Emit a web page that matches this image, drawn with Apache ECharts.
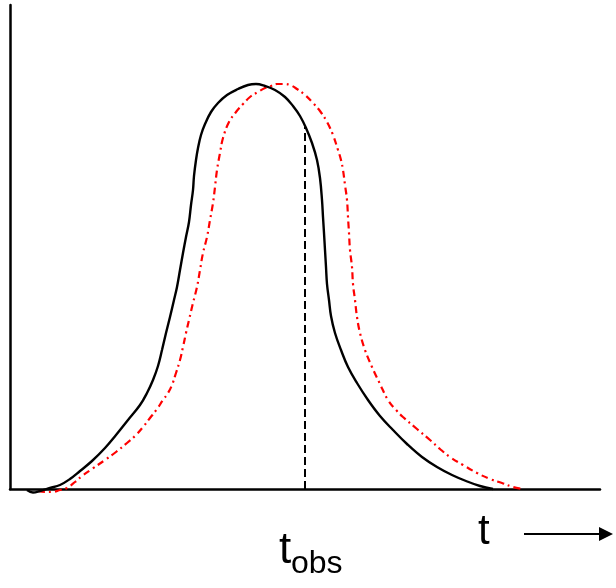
<!DOCTYPE html>
<html>
<head>
<meta charset="utf-8">
<script src="https://cdn.jsdelivr.net/npm/echarts@6/dist/echarts.min.js"></script>
<style>
  html, body { margin: 0; padding: 0; background: #fff; }
  #chart { width: 616px; height: 588px; }
</style>
</head>
<body>
<div id="chart"></div>
<script>
// Solid black pulse (time, intensity)
const solidT = [1.7, 2.3, 3.0, 4.0, 5.0, 6.0, 7.0, 8.2, 9.5, 10.6, 11.8, 13.0, 13.7, 14.3, 14.8, 15.2, 15.6, 16.0, 16.4, 16.7, 17.0, 17.3, 17.6, 17.9, 18.1, 18.3, 18.4, 18.6, 18.8, 19.1, 19.5, 20.1, 20.8, 21.7, 22.8, 23.8, 24.6, 25.5, 26.5, 27.5, 28.3, 29.0, 29.6, 30.2, 30.7, 31.0, 31.2, 31.3, 31.4, 31.5, 31.6, 31.7, 31.9, 32.1, 32.5, 33.1, 33.8, 34.7, 35.8, 37.0, 38.3, 39.7, 41.2, 42.7, 44.2, 45.6, 47.0, 48.3];
const solidI = [-0.1, -0.35, -0.2, 0.1, 0.4, 1.0, 1.8, 2.8, 4.1, 5.4, 6.9, 8.4, 9.6, 10.9, 12.3, 13.9, 15.6, 17.2, 18.9, 20.2, 21.9, 23.6, 25.2, 26.7, 28.4, 29.9, 31.3, 32.9, 34.1, 35.4, 36.5, 37.7, 38.6, 39.4, 40.0, 40.4, 40.5, 40.3, 39.9, 39.2, 38.3, 37.3, 36.1, 34.6, 32.9, 31.1, 28.9, 27.2, 25.6, 23.9, 22.2, 20.5, 18.9, 17.3, 15.6, 13.9, 12.2, 10.6, 8.9, 7.3, 5.9, 4.5, 3.2, 2.2, 1.4, 0.8, 0.3, 0.0];

// Shifted red pulse (time, intensity)
const shiftedT = [2.8, 3.5, 4.2, 5.0, 5.7, 6.5, 7.2, 8.2, 9.5, 10.6, 11.7, 12.6, 13.3, 14.0, 14.7, 15.3, 15.8, 16.2, 16.6, 17.0, 17.3, 17.6, 17.9, 18.3, 18.7, 19.0, 19.3, 19.7, 20.0, 20.3, 20.5, 20.7, 21.0, 21.3, 21.9, 22.6, 23.3, 24.0, 24.8, 25.5, 26.1, 26.7, 27.4, 28.0, 28.7, 29.5, 30.3, 31.0, 31.7, 32.3, 32.8, 33.1, 33.3, 33.5, 33.7, 33.8, 33.9, 34.0, 34.2, 34.3, 34.5, 34.7, 35.0, 35.5, 36.2, 37.0, 37.8, 38.6, 39.3, 40.7, 42.0, 43.0, 44.0, 45.3, 46.7, 48.0, 49.2, 50.3, 51.3];
const shiftedI = [-0.2, -0.3, -0.3, -0.1, 0.1, 0.7, 1.3, 2.0, 2.9, 3.7, 4.6, 5.4, 6.2, 7.1, 8.0, 8.9, 9.6, 10.4, 11.6, 12.9, 14.2, 15.6, 16.9, 18.6, 20.2, 21.9, 23.6, 25.2, 26.9, 28.6, 30.2, 31.9, 33.6, 35.1, 36.7, 37.7, 38.5, 39.2, 39.7, 40.1, 40.3, 40.5, 40.5, 40.4, 40.0, 39.4, 38.6, 37.8, 36.7, 35.4, 33.9, 32.9, 31.9, 30.4, 28.9, 27.2, 25.6, 23.9, 22.2, 20.5, 18.9, 17.2, 15.6, 13.9, 12.2, 10.5, 8.9, 7.9, 7.2, 6.0, 4.9, 4.0, 3.2, 2.4, 1.6, 1.0, 0.6, 0.2, 0.0];

// Observation time and the solid pulse height there
const tObs = 29.5;
const tObsLevel = 36.2;

const tMax = 59;
const iMax = 48.4;

const pairs = (xs, ys) => xs.map((x, i) => [x, ys[i]]);

const chart = echarts.init(document.getElementById('chart'), null, { renderer: 'canvas' });

const font = '"Liberation Sans", Arial, sans-serif';

chart.setOption({
  animation: false,
  backgroundColor: '#ffffff',
  grid: { left: 10, right: 16, top: 5, bottom: 99, containLabel: false },
  xAxis: {
    type: 'value', min: 0, max: tMax,
    axisLine: { show: true, onZero: false, lineStyle: { color: '#000', width: 2.5 } },
    axisTick: { show: false }, axisLabel: { show: false }, splitLine: { show: false }
  },
  yAxis: {
    type: 'value', min: 0, max: iMax,
    axisLine: { show: true, onZero: false, lineStyle: { color: '#000', width: 2.5 } },
    axisTick: { show: false }, axisLabel: { show: false }, splitLine: { show: false }
  },
  series: [
    {
      type: 'line',
      data: pairs(shiftedT, shiftedI),
      smooth: 0.4,
      symbol: 'none',
      clip: false,
      lineStyle: { color: '#ff0000', width: 2.2, type: [7, 4, 2, 4] },
      z: 2
    },
    {
      type: 'line',
      data: pairs(solidT, solidI),
      smooth: 0.4,
      symbol: 'none',
      clip: false,
      lineStyle: { color: '#000000', width: 2.4 },
      z: 3,
      markLine: {
        silent: true,
        symbol: ['none', 'none'],
        label: { show: false },
        lineStyle: { color: '#000', width: 2, type: [8, 4] },
        data: [[{ coord: [tObs, 0] }, { coord: [tObs, tObsLevel] }]]
      }
    }
  ],
  graphic: [
    { type: 'text', left: 279, top: 529, style: { text: 't', font: '44px ' + font, fill: '#000' } },
    { type: 'text', left: 291, top: 548, style: { text: 'obs', font: '32px ' + font, fill: '#000' } },
    { type: 'text', left: 478, top: 511, style: { text: 't', font: '42px ' + font, fill: '#000' } },
    { type: 'line', shape: { x1: 524, y1: 534, x2: 602, y2: 534 }, style: { stroke: '#000', lineWidth: 2 } },
    { type: 'polygon', shape: { points: [[599, 527], [613, 534], [599, 541]] }, style: { fill: '#000' } }
  ]
});
</script>
</body>
</html>
